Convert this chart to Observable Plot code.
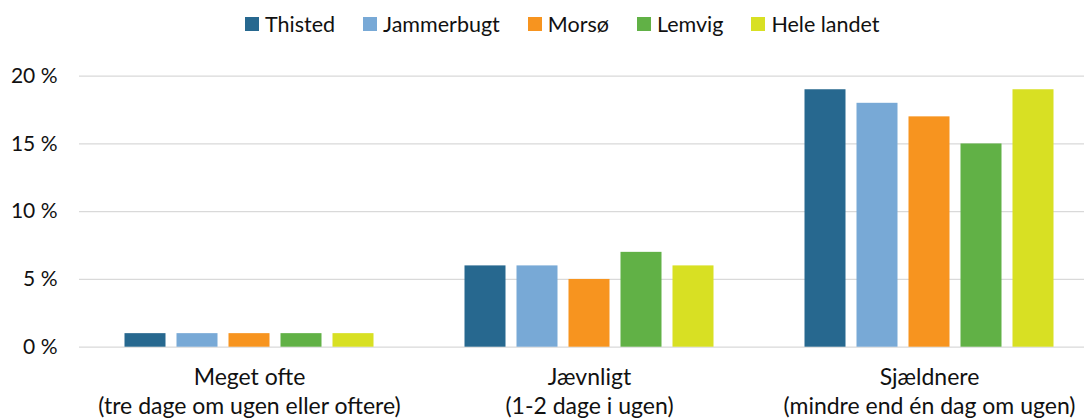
<!DOCTYPE html>
<html>
<head>
<meta charset="utf-8">
<script src="https://cdn.jsdelivr.net/npm/d3@7"></script>
<script src="https://cdn.jsdelivr.net/npm/@observablehq/plot@0.6"></script>
<style>
  html, body { margin: 0; padding: 0; background: #fff; overflow: hidden; }
  body { width: 1084px; height: 418px; font-family: Lato, "Open Sans", sans-serif; }
  #legend { height: 48px; box-sizing: border-box; padding-top: 0px; padding-left: 245px; display: flex; align-items: center; font-size: 21.5px; line-height: 22px; color: #111; }
  .item { display: flex; align-items: center; margin-right: 28px; }
  .sw { width: 14px; height: 14px; margin-right: 6px; }
</style>
</head>
<body>
<div id="legend"></div>
<div id="chart"></div>
<script>
const categories = ["Meget ofte", "Jævnligt", "Sjældnere"];
const subLabels = ["(tre dage om ugen eller oftere)", "(1-2 dage i ugen)", "(mindre end én dag om ugen)"];
const series = ["Thisted", "Jammerbugt", "Morsø", "Lemvig", "Hele landet"];
const colors = ["#27688f", "#78a9d6", "#f7941f", "#61b146", "#d8e023"];
const values = {
  "Thisted":     [1, 6, 19],
  "Jammerbugt":  [1, 6, 18],
  "Morsø":       [1, 5, 17],
  "Lemvig":      [1, 7, 15],
  "Hele landet": [1, 6, 19]
};
const yTicks = [0, 5, 10, 15, 20];

const data = [];
categories.forEach((c, i) => series.forEach(s => data.push({category: c, series: s, value: values[s][i]})));

// legend
const legend = document.getElementById("legend");
series.forEach((s, i) => {
  const it = document.createElement("div");
  it.className = "item";
  const sw = document.createElement("div");
  sw.className = "sw";
  sw.style.background = colors[i];
  const t = document.createElement("span");
  t.textContent = s;
  it.appendChild(sw); it.appendChild(t);
  legend.appendChild(it);
});

const chart = Plot.plot({
  width: 1084,
  height: 370,
  marginLeft: 78.5,
  marginRight: -15.5,
  marginTop: 27.7,
  marginBottom: 71.3,
  style: { fontFamily: "Lato, 'Open Sans', sans-serif", color: "#111", background: "#fff", overflow: "visible" },
  fx: { domain: categories, padding: 0, axis: null, label: null },
  x: { domain: series, paddingInner: 0.21, paddingOuter: 0.87, axis: null, label: null },
  y: { domain: [0, 20], axis: null, label: null },
  color: { domain: series, range: colors },
  marks: [
    Plot.ruleY(yTicks, { stroke: "#d9d9d9", strokeWidth: 1.3 }),
    Plot.barY(data, { fx: "category", x: "series", y: "value", fill: "series" }),
    Plot.axisY({ ticks: yTicks, tickSize: 0, tickPadding: 9, dx: -13, fontSize: 21, label: null, tickFormat: d => d + " %" }),
    Plot.axisFx({ domain: categories, anchor: "bottom", tickSize: 0, tickPadding: 18, fontSize: 23, lineHeight: 1.24, label: null, tickFormat: d => d + "\n" + subLabels[categories.indexOf(d)] })
  ]
});
document.getElementById("chart").appendChild(chart);
</script>
</body>
</html>
